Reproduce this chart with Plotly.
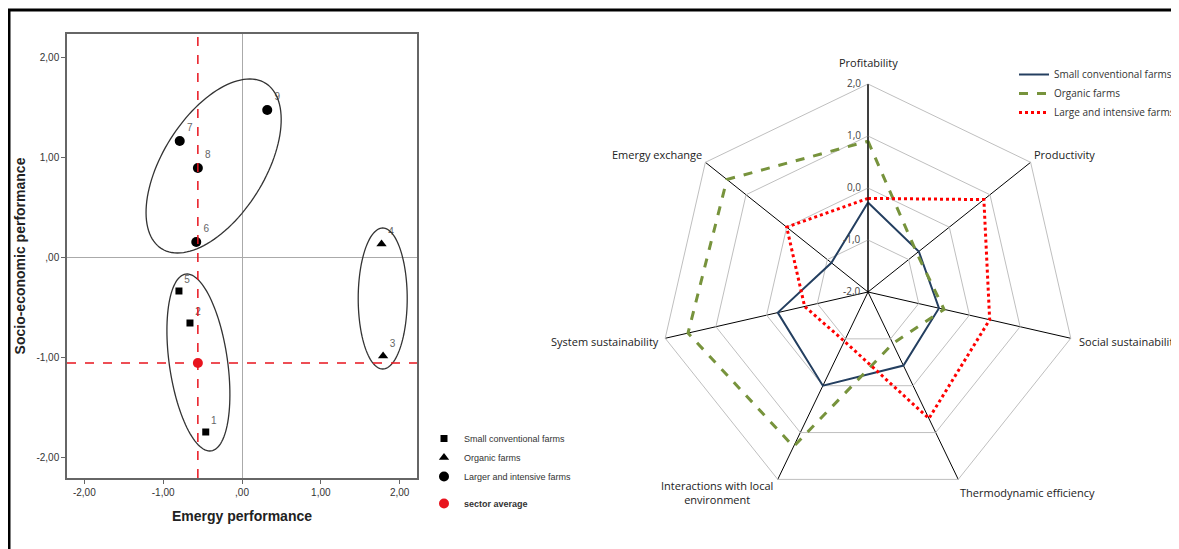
import numpy as np
import plotly.graph_objects as go

# ---------------- data ----------------
farm_ids = ["1", "2", "3", "4", "5", "6", "7", "8", "9"]
emergy_perf = [-0.46, -0.66, 1.79, 1.77, -0.80, -0.58, -0.79, -0.56, 0.32]
socio_perf = [-1.75, -0.66, -0.99, 0.13, -0.34, 0.15, 1.16, 0.89, 1.47]
farm_group = ["small", "small", "organic", "organic", "small", "large", "large", "large", "large"]
sector_avg_x = [-0.56]
sector_avg_y = [-1.06]

scatter_ticks = [-2, -1, 0, 1, 2]
scatter_ticktext = ["-2,00", "-1,00", ",00", "1,00", "2,00"]

radar_axes = ["Profitability", "Productivity", "Social sustainability",
              "Thermodynamic efficiency", "Interactions with local<br>environment",
              "System sustainability", "Emergy exchange"]
radar_small = [-0.28, -0.75, -0.60, -0.43, 0.00, -0.22, -1.10]
radar_organic = [0.90, -0.80, -0.50, -0.90, 1.30, 1.55, 1.47]
radar_large = [-0.20, 0.85, 0.40, 0.70, -0.95, -0.75, 0.00]
radar_ticks = [-2, -1, 0, 1, 2]
radar_ticktext = ["-2,0", "-1,0", "0,0", "1,0", "2,0"]

# ellipse outlines: centre (data), semi axes (px), angle (deg, screen)
ellipses = [
    dict(cx=-0.36, cy=0.91, a=97.7, b=50.9, ang=57.8),
    dict(cx=-0.553, cy=-1.055, a=89.3, b=29.1, ang=98.2),
    dict(cx=1.785, cy=-0.415, a=70.5, b=24.5, ang=90.0),
]

W, H = 1179, 549
OFF = 8  # page body margin in the browser


def PX(px):
    return (px - OFF) / W


def PY(py):
    return (H - (py - OFF)) / H


X_RANGE = [-2.22, 2.22]
Y_RANGE = [-2.21, 2.23]
xdom = [PX(67), PX(417)]
ydom = [PY(478), PY(34)]
px_x = (xdom[1] - xdom[0]) * W / (X_RANGE[1] - X_RANGE[0])
px_y = (ydom[1] - ydom[0]) * H / (Y_RANGE[1] - Y_RANGE[0])

fig = go.Figure()

font_sc = "Liberation Sans, Arial, sans-serif"
font_rad = "Open Sans, Liberation Sans, sans-serif"

groups = [("small", "Small conventional farms", "square", 7),
          ("organic", "Organic farms", "triangle-up", 9),
          ("large", "Larger and intensive farms", "circle", 10)]
for key, name, sym, size in groups:
    idx = [i for i, g in enumerate(farm_group) if g == key]
    fig.add_trace(go.Scatter(
        x=[emergy_perf[i] for i in idx], y=[socio_perf[i] for i in idx],
        text=[farm_ids[i] for i in idx], mode="markers+text",
        textposition="top right", textfont=dict(size=10, color="#666666", family=font_sc),
        marker=dict(symbol=sym, size=size, color="black"),
        name=name, legend="legend", legendgroup="g1",
        xaxis="x", yaxis="y"))

fig.add_trace(go.Scatter(
    x=sector_avg_x, y=sector_avg_y, mode="markers",
    marker=dict(symbol="circle", size=10, color="#E8141E"),
    name="<b>sector average</b>", legend="legend", legendgroup="g2",
    xaxis="x", yaxis="y"))

# radar
def closed(v):
    return list(v) + [v[0]]

theta = closed(radar_axes)
fig.add_trace(go.Scatterpolar(r=closed(radar_small), theta=theta, mode="lines",
                              line=dict(color="#243F60", width=2),
                              name="Small conventional farms", legend="legend2"))
fig.add_trace(go.Scatterpolar(r=closed(radar_organic), theta=theta, mode="lines",
                              line=dict(color="#77933C", width=3, dash="dash"),
                              name="Organic farms", legend="legend2"))
fig.add_trace(go.Scatterpolar(r=closed(radar_large), theta=theta, mode="lines",
                              line=dict(color="#FF0000", width=3, dash="dot"),
                              name="Large and intensive farms", legend="legend2"))

shapes = []
# ellipses
t = np.linspace(0, 2 * np.pi, 121)
for e in ellipses:
    th = np.deg2rad(e["ang"])
    dxp = e["a"] * np.cos(t) * np.cos(th) - e["b"] * np.sin(t) * np.sin(th)
    dyp = e["a"] * np.cos(t) * np.sin(th) + e["b"] * np.sin(t) * np.cos(th)
    xs = e["cx"] + dxp / px_x
    ys = e["cy"] + dyp / px_y
    path = "M " + " L ".join(f"{a:.4f},{b:.4f}" for a, b in zip(xs, ys)) + " Z"
    shapes.append(dict(type="path", path=path, xref="x", yref="y",
                       line=dict(color="#333333", width=1.3)))

# sector average cross lines
shapes.append(dict(type="line", xref="x", yref="y domain", x0=sector_avg_x[0], x1=sector_avg_x[0],
                   y0=0, y1=1, line=dict(color="#E8141E", width=1.5, dash="dash"), layer="above"))
shapes.append(dict(type="line", xref="x domain", yref="y", x0=0, x1=1, y0=sector_avg_y[0],
                   y1=sector_avg_y[0], line=dict(color="#E8141E", width=1.5, dash="dash"), layer="above"))
# outer frame
shapes.append(dict(type="rect", xref="paper", yref="paper", x0=PX(9), x1=1.05,
                   y0=-0.05, y1=PY(10), line=dict(color="black", width=3)))

R = 208
cx, cy = 868, 292
annotations = []
for v, txt in zip(radar_ticks, radar_ticktext):
    annotations.append(dict(xref="paper", yref="paper", x=PX(cx - 5), y=PY(cy - (v + 2) * R / 4 - 1),
                            text=txt, showarrow=False, xanchor="right", yanchor="middle",
                            font=dict(size=10, color="#444444", family=font_rad)))

# category labels around the radar (x, y in page px, anchor)
label_pos = [
    (868, 62, "center"),
    (1032, 154, "left"),
    (1077, 342, "left"),
    (958, 492, "left"),
    (717, 492, "center"),
    (661, 342, "right"),
    (704, 154, "right"),
]
for name, (lx, ly, anc) in zip(radar_axes, label_pos):
    annotations.append(dict(xref="paper", yref="paper", x=PX(lx), y=PY(ly), text=name,
                            showarrow=False, xanchor=anc, yanchor="middle", align="center",
                            font=dict(size=11, color="#222222", family=font_rad)))

fig.update_layout(
    width=W, height=H,
    margin=dict(l=0, r=0, t=0, b=0),
    paper_bgcolor="white", plot_bgcolor="white",
    showlegend=True,
    shapes=shapes,
    annotations=annotations,
    xaxis=dict(domain=xdom, range=X_RANGE, tickvals=scatter_ticks, ticktext=scatter_ticktext,
               showgrid=False, zeroline=True, zerolinecolor="#AAAAAA", zerolinewidth=1,
               showline=True, mirror=True, linecolor="#666666", linewidth=1.5,
               ticks="outside", ticklen=4, tickcolor="#666666",
               tickfont=dict(size=10, color="#333333", family=font_sc),
               title=dict(text="<b>Emergy performance</b>", font=dict(size=14, color="#222222", family=font_sc),
                          standoff=14)),
    yaxis=dict(domain=ydom, range=Y_RANGE, tickvals=scatter_ticks, ticktext=scatter_ticktext,
               showgrid=False, zeroline=True, zerolinecolor="#AAAAAA", zerolinewidth=1,
               showline=True, mirror=True, linecolor="#666666", linewidth=1.5,
               ticks="outside", ticklen=4, tickcolor="#666666",
               tickfont=dict(size=10, color="#333333", family=font_sc),
               title=dict(text="<b>Socio-economic performance</b>", font=dict(size=14, color="#222222", family=font_sc),
                          standoff=8)),
    polar=dict(
        domain=dict(x=[PX(cx - R), PX(cx + R)], y=[PY(cy + R), PY(cy - R)]),
        bgcolor="white",
        gridshape="linear",
        radialaxis=dict(range=[-2, 2], tickvals=radar_ticks, showticklabels=False,
                        angle=90, showline=True, linecolor="black", linewidth=1,
                        gridcolor="#BFBFBF", gridwidth=1, ticks=""),
        angularaxis=dict(direction="clockwise", rotation=90,
                         gridcolor="black", gridwidth=1, showticklabels=False,
                         linecolor="#BFBFBF", linewidth=1, ticks=""),
    ),
    legend=dict(x=PX(424), y=PY(424), xanchor="left", yanchor="top",
                bgcolor="rgba(0,0,0,0)", font=dict(size=9, color="#333333", family=font_sc),
                traceorder="grouped", tracegroupgap=8, itemwidth=30),
    legend2=dict(x=PX(1014), y=PY(60), xanchor="left", yanchor="top",
                 bgcolor="rgba(0,0,0,0)", font=dict(size=10, color="#333333", family=font_rad),
                 itemwidth=30),
)

fig.write_html("out.html")
